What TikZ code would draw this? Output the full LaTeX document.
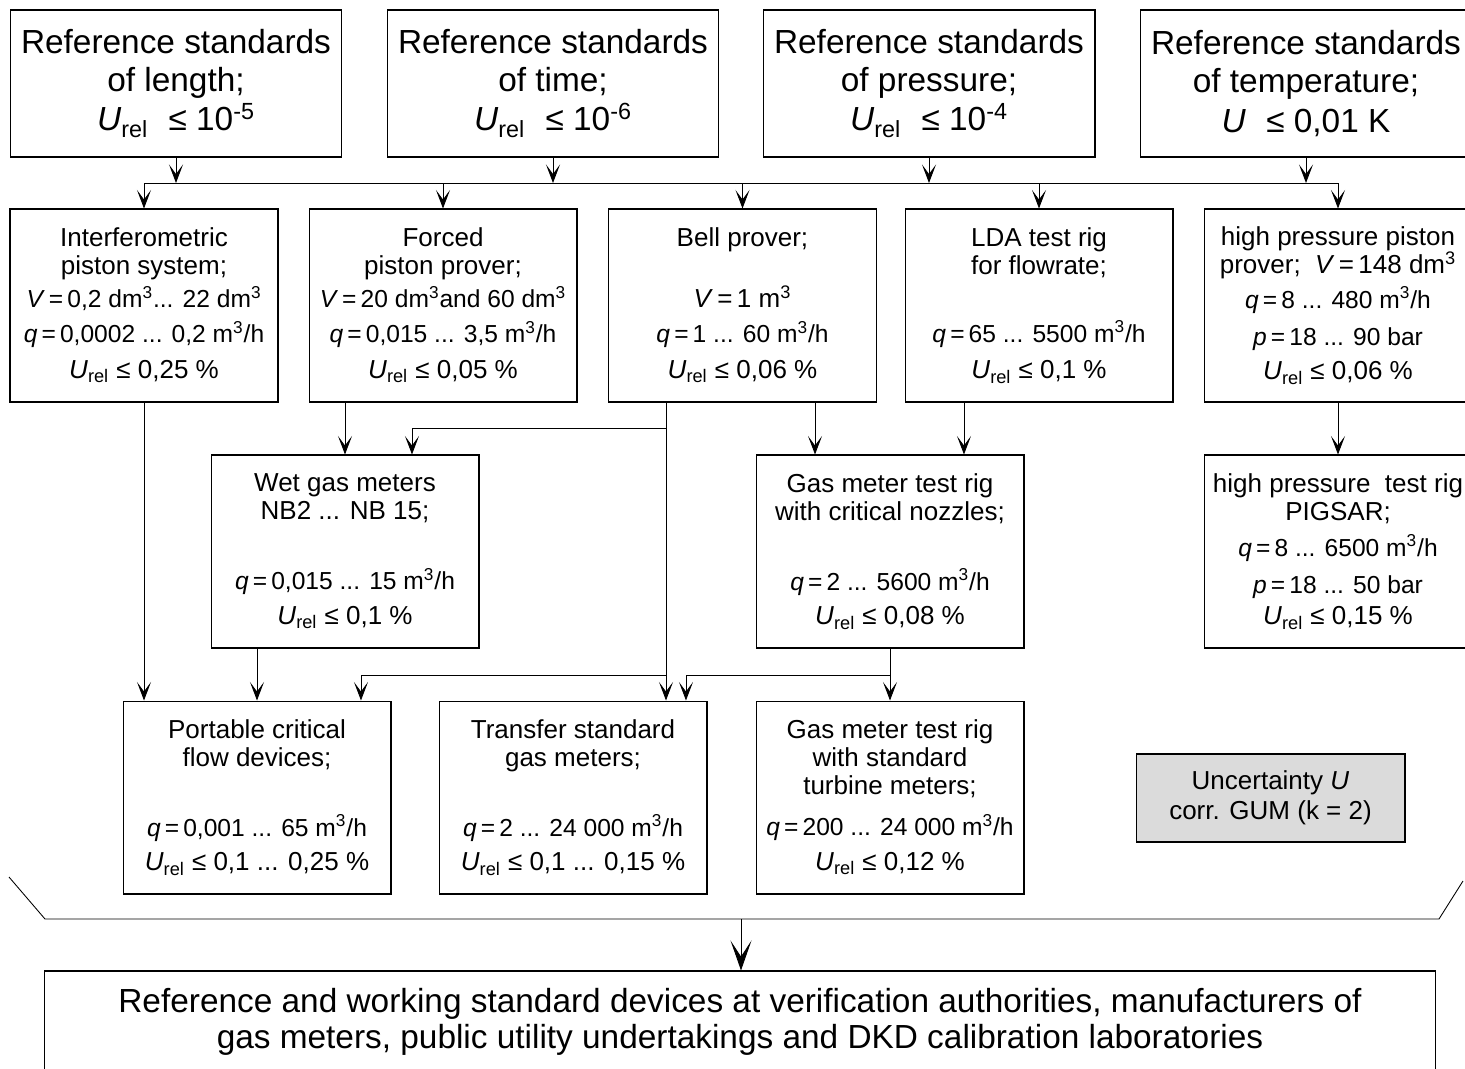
\documentclass[tikz,border=0pt]{standalone}
\usepackage{fontspec}
\setmainfont{Liberation Sans}
\usetikzlibrary{arrows.meta, positioning}

\newcommand{\Urel}{\textit{U}\textsubscript{rel}}
\newcommand{\cbm}{m\textsuperscript{3}/h}
\newcommand{\eqs}{\,=\,}

\begin{document}
\begin{tikzpicture}[x=0.02cm, y=-0.02cm]
        \tikzstyle{topblock} = [rectangle, draw, line width=0.6pt, minimum width=6.64cm, minimum height=2.94cm, align=center, inner sep=0pt, font=\fontsize{19}{21.5}\selectfont]
        \tikzstyle{block} = [rectangle, draw, line width=0.6pt, minimum width=5.36cm, minimum height=3.86cm, align=center, inner sep=0pt, font=\fontsize{14.8}{15.9}\selectfont]
        \tikzstyle{line} = [draw, -{Stealth[length=3.7mm, width=2.8mm, inset=1.9mm]}, line width=0.5pt]
        \tikzstyle{bigline} = [draw, -{Stealth[length=6mm, width=4.2mm, inset=3.2mm]}, line width=0.5pt]

        \useasboundingbox (0,0) rectangle (1465,1069);
        \clip (0,0) rectangle (1465,1069);

        % Reference standards
        \node [topblock] (reflen) at (176,83.5) {Reference standards\\of length;\\[1pt]\Urel\,\, ≤ 10\textsuperscript{-5}};
        \node [topblock] (reftime) at (553,83.5) {Reference standards\\of time;\\[1pt]\Urel\,\, ≤ 10\textsuperscript{-6}};
        \node [topblock] (refpress) at (929,83.5) {Reference standards\\of pressure;\\[1pt]\Urel\,\, ≤ 10\textsuperscript{-4}};
        \node [topblock] (reftemp) at (1306,83.5) {Reference standards\\of temperature;\\[1pt]\textit{U}\,\, ≤ 0,01 K};

        % Primary standards
        \node [block] (interf) at (144,305.5) {Interferometric\\piston system;\\[2.8pt]{\fontsize{14}{15.9}\selectfont\textit{V}\eqs 0,2 dm\textsuperscript{3}... 22 dm\textsuperscript{3}}\\[3.9pt]{\fontsize{14}{15.9}\selectfont\textit{q}\eqs 0,0002 ... 0,2 \cbm}\\[4.5pt]\Urel{} ≤ 0,25 \%};
        \node [block] (forced) at (443,305.5) {Forced\\piston prover;\\[2.8pt]{\fontsize{14}{15.9}\selectfont\textit{V}\eqs 20 dm\textsuperscript{3}and 60 dm\textsuperscript{3}}\\[3.9pt]{\fontsize{14}{15.9}\selectfont\textit{q}\eqs 0,015 ... 3,5 \cbm}\\[4.5pt]\Urel{} ≤ 0,05 \%};
        \node [block] (bell) at (742.5,305.5) {Bell prover;\\[18.7pt]\textit{V}\eqs 1 m\textsuperscript{3}\\[3.9pt]{\fontsize{14}{15.9}\selectfont\textit{q}\eqs 1 ... 60 \cbm}\\[4.5pt]\Urel{} ≤ 0,06 \%};
        \node [block] (lda) at (1039,305.5) {LDA test rig\\for flowrate;\\[22.7pt]{\fontsize{14}{15.9}\selectfont\textit{q}\eqs 65 ... 5500 \cbm}\\[5pt]\Urel{} ≤ 0,1 \%};
        \node [block] (hpp) at (1338,305.5) {high pressure piston\\prover;\ \ \textit{V}\eqs 148 dm\textsuperscript{3}\\[3.9pt]{\fontsize{14}{15.9}\selectfont\textit{q}\eqs 8 ... 480 \cbm}\\[5.6pt]{\fontsize{14}{15.9}\selectfont\textit{p}\eqs 18 ... 90 bar}\\[3.4pt]\Urel{} ≤ 0,06 \%};

        % Secondary standards
        \node [block] (wet) at (345,551.5) {Wet gas meters\\NB2 ... NB 15;\\[23.8pt]{\fontsize{14}{15.9}\selectfont\textit{q}\eqs 0,015 ... 15 \cbm}\\[3.9pt]\Urel{} ≤ 0,1 \%};
        \node [block] (crit) at (890,551.5) {Gas meter test rig\\with critical nozzles;\\[23.8pt]{\fontsize{14}{15.9}\selectfont\textit{q}\eqs 2 ... 5600 \cbm}\\[3.9pt]\Urel{} ≤ 0,08 \%};
        \node [block] (pigsar) at (1338,551.5) {high pressure\ \ test rig\\PIGSAR;\\[4.5pt]{\fontsize{14}{15.9}\selectfont\textit{q}\eqs 8 ... 6500 \cbm}\\[5.6pt]{\fontsize{14}{15.9}\selectfont\textit{p}\eqs 18 ... 50 bar}\\[1.7pt]\Urel{} ≤ 0,15 \%};

        % Transfer standards
        \node [block] (portable) at (257,797.5) {Portable critical\\flow devices;\\[23.8pt]{\fontsize{14}{15.9}\selectfont\textit{q}\eqs 0,001 ... 65 \cbm}\\[3.9pt]\Urel{} ≤ 0,1 ... 0,25 \%};
        \node [block] (transfer) at (573,797.5) {Transfer standard\\gas meters;\\[23.8pt]{\fontsize{14}{15.9}\selectfont\textit{q}\eqs 2 ... 24 000 \cbm}\\[3.9pt]\Urel{} ≤ 0,1 ... 0,15 \%};
        \node [block] (turbine) at (890,797.5) {Gas meter test rig\\with standard\\turbine meters;\\[7.3pt]{\fontsize{14}{15.9}\selectfont\textit{q}\eqs 200 ... 24 000 \cbm}\\[3.9pt]\Urel{} ≤ 0,12 \%};
        \node [block, fill=black!14, minimum width=5.38cm, minimum height=1.76cm, font=\fontsize{14.8}{17}\selectfont] (unc) at (1270.5,798) {Uncertainty \textit{U}\\corr. GUM (k = 2)};

        \node [block, minimum width=27.84cm, minimum height=2.02cm, font=\fontsize{19}{20.6}\selectfont] (final) at (740,1021.5) {Reference and working standard devices at verification authorities, manufacturers of\\gas meters, public utility undertakings and DKD calibration laboratories};

        % Paths
        \coordinate (busL) at (144,183);
        \coordinate (busR) at (1338,183);
        \draw [line width=0.5pt] (busL) -- (busR);
        \foreach \n in {reflen,reftime,refpress,reftemp}
            \path [line] (\n) -- (\n |- busL);
        \foreach \n in {interf,forced,bell,lda,hpp}
            \path [line] (\n |- busL) -- (\n);

        \path [line] (interf) -- (interf |- portable.north);
        \path [line] (wet |- forced.south) -- (wet);
        \coordinate (bellout) at (666,402);
        \coordinate (j1) at (666,428);
        \coordinate (j2) at (666,675);
        \path [line] (bellout) -- (bellout |- transfer.north);
        \path [line] (j1) -| ([xshift=1.34cm]wet.north);
        \path [line] (j2) -| ([xshift=2.08cm]portable.north);
        \path [line] ([xshift=-1.5cm]crit.north |- bell.south) -- ([xshift=-1.5cm]crit.north);
        \path [line] ([xshift=1.48cm]crit.north |- lda.south) -- ([xshift=1.48cm]crit.north);
        \path [line] (hpp) -- (pigsar);
        \path [line] (portable |- wet.south) -- (portable);
        \path [line] (crit) -- (turbine);
        \coordinate (j3) at (890,675);
        \path [line] (j3) -| ([xshift=2.26cm]transfer.north);

        % Bracket
        \draw [line width=0.5pt] (9,877) -- (45,919) -- (1439,919) -- (1463,881);
        \coordinate (brk) at (741,919);
        \path [bigline] (brk) -- (brk |- final.north);
    \end{tikzpicture}
\end{document}
